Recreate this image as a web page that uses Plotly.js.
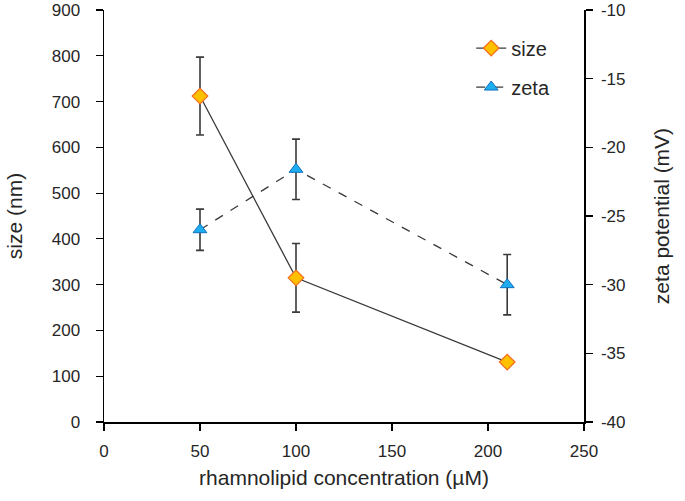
<!DOCTYPE html>
<html>
<head>
<meta charset="utf-8">
<script src="https://cdn.plot.ly/plotly-3.0.1.min.js"></script>
<style>html,body{margin:0;padding:0;background:#fff;}#chart{width:685px;height:501px;}</style>
</head>
<body>
<div id="chart"></div>
<script>
const concentration = [50, 100, 210];
const sizeValues = [712, 315, 131];
const sizeErrors = [85, 75, null];
const zetaValues = [-26.0, -21.6, -30.0];
const zetaErrors = [1.5, 2.2, 2.2];
const xTicks = [0, 50, 100, 150, 200, 250];
const sizeTicks = [0, 100, 200, 300, 400, 500, 600, 700, 800, 900];
const zetaTicks = [-40, -35, -30, -25, -20, -15, -10];
const zetaTickText = ['-40', '-35', '-30', '-25', '-20', '-15', '-10'];

const font = "Liberation Sans, Arial, sans-serif";
const txt = '#262626';
const traces = [
  {
    x: concentration, y: sizeValues, name: 'size', type: 'scatter', mode: 'lines+markers',
    legendgroup: 'a',
    line: {color: '#3a3a3a', width: 1.3},
    marker: {symbol: 'diamond', size: 12, color: '#FFC000', line: {color: '#F26B1D', width: 1.2}},
    error_y: {type: 'data', array: sizeErrors, visible: true, color: '#3a3a3a', thickness: 1.6, width: 4}
  },
  {
    x: concentration, y: zetaValues, name: 'zeta', type: 'scatter', mode: 'lines+markers',
    yaxis: 'y2', legendgroup: 'b',
    line: {color: '#3a3a3a', width: 1.3, dash: 'dash'},
    marker: {symbol: 'triangle-up', size: 12, color: '#1EAEF0', line: {color: '#1070C0', width: 1}},
    error_y: {type: 'data', array: zetaErrors, visible: true, color: '#3a3a3a', thickness: 1.6, width: 4}
  }
];
const axisCommon = {
  showgrid: false, zeroline: false, showline: true, linecolor: '#000', linewidth: 1.5,
  ticks: 'outside', ticklen: 7, tickwidth: 1.2, tickcolor: '#000',
  tickfont: {family: font, size: 17, color: txt}
};
const titleFont = {family: font, size: 21, color: txt};
const layout = {
  width: 685, height: 501,
  margin: {l: 104, r: 101, t: 10, b: 79},
  paper_bgcolor: '#fff', plot_bgcolor: '#fff',
  font: {family: font, color: txt},
  showlegend: true,
  legend: {x: 0.765, y: 0.955, xanchor: 'left', yanchor: 'top', bgcolor: 'rgba(0,0,0,0)',
           font: {family: font, size: 20, color: txt}, tracegroupgap: 10},
  xaxis: Object.assign({}, axisCommon, {range: [0, 250], tickvals: xTicks, ticklabelstandoff: 6,
    title: {text: 'rhamnolipid concentration (µM)', font: titleFont, standoff: 10}}),
  yaxis: Object.assign({}, axisCommon, {range: [0, 900], tickvals: sizeTicks, ticklabelstandoff: 12,
    title: {text: 'size (nm)', font: titleFont, standoff: 23}}),
  yaxis2: Object.assign({}, axisCommon, {range: [-40, -10], tickvals: zetaTicks, ticktext: zetaTickText,
    ticklabelstandoff: 5, overlaying: 'y', side: 'right',
    title: {text: 'zeta potential (mV)', font: titleFont, standoff: 30}})
};
Plotly.newPlot('chart', traces, layout, {displayModeBar: false, staticPlot: true});
</script>
</body>
</html>
